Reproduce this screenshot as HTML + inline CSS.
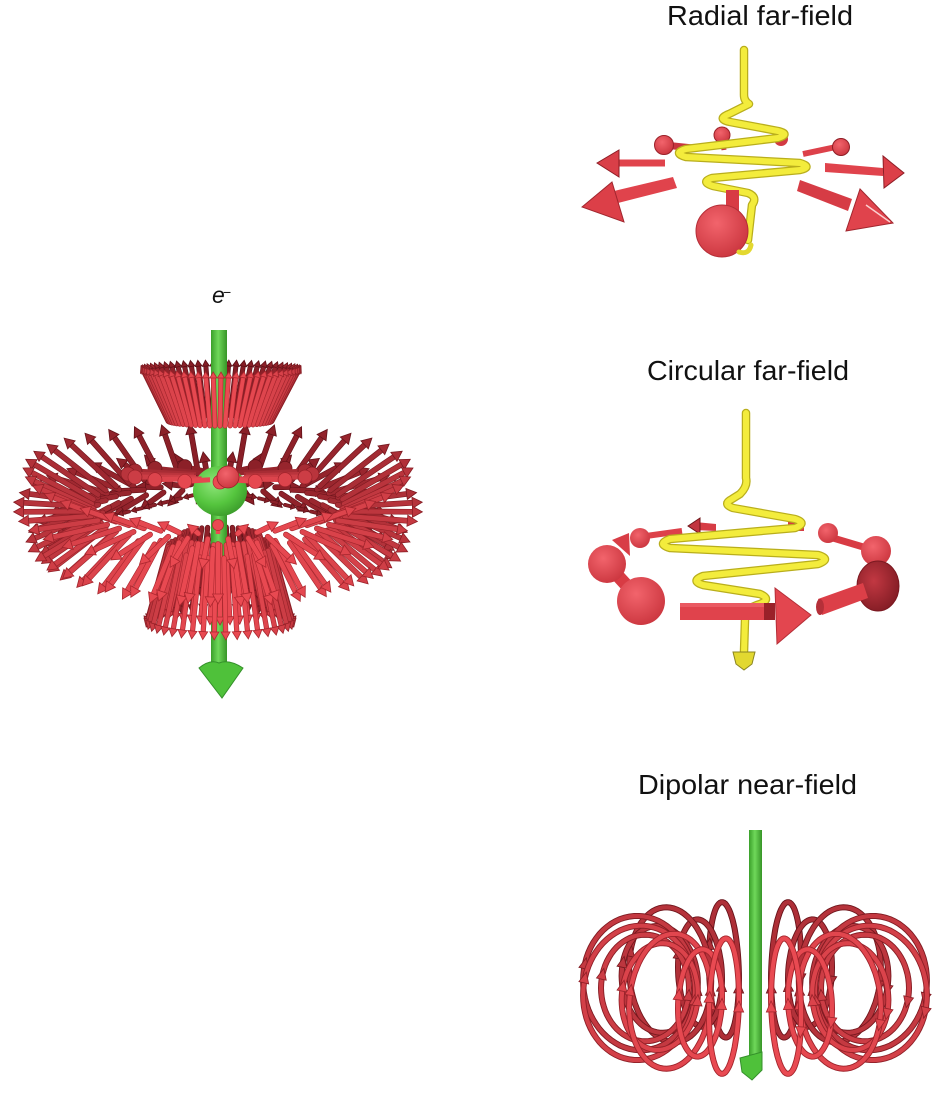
<!DOCTYPE html>
<html><head><meta charset="utf-8">
<style>
html,body{margin:0;padding:0;background:#fff;}
svg{display:block;}
text{font-family:"Liberation Sans",Arial,sans-serif;fill:#111;}
</style></head><body>
<svg id="s" xmlns="http://www.w3.org/2000/svg" width="944" height="1096" viewBox="0 0 944 1096">
<defs>
 <linearGradient id="gRod" x1="0" x2="1" y1="0" y2="0"><stop offset="0" stop-color="#3a9f2a"/><stop offset=".45" stop-color="#6fd85a"/><stop offset="1" stop-color="#379527"/></linearGradient>
 <radialGradient id="gSph" cx=".4" cy=".35" r=".7"><stop offset="0" stop-color="#8fe67b"/><stop offset=".6" stop-color="#55c53e"/><stop offset="1" stop-color="#3a9a2a"/></radialGradient>
 <radialGradient id="gRed" cx=".4" cy=".35" r=".75"><stop offset="0" stop-color="#f2646c"/><stop offset="1" stop-color="#c8323b"/></radialGradient>
 <radialGradient id="gDark" cx=".4" cy=".4" r=".7"><stop offset="0" stop-color="#c23842"/><stop offset="1" stop-color="#7e1a22"/></radialGradient>
</defs>

<text x="667" y="25" font-size="28" textLength="186" lengthAdjust="spacingAndGlyphs">Radial far-field</text>
<text x="647" y="380" font-size="28" textLength="202" lengthAdjust="spacingAndGlyphs">Circular far-field</text>
<text x="638" y="794" font-size="28" textLength="219" lengthAdjust="spacingAndGlyphs">Dipolar near-field</text>
<text x="212" y="303" font-size="23" font-style="italic">e</text>
<text x="223" y="297" font-size="14">−</text>

<!-- ============ RADIAL FAR-FIELD ============ -->
<g id="radial">
 <line x1="664" y1="145" x2="693" y2="148" stroke="#c8353e" stroke-width="7"/>
 <circle cx="664" cy="145" r="9.5" fill="url(#gRed)" stroke="#9a2129" stroke-width="1"/>
 <line x1="722" y1="135" x2="724" y2="150" stroke="#c8353e" stroke-width="5"/>
 <circle cx="722" cy="135" r="8" fill="url(#gRed)" stroke="#9a2129" stroke-width="1"/>
 <circle cx="781" cy="139" r="7" fill="#d23a43"/>
 <path d="M744,50 L744,95 Q744,101 749,104 L729,114 Q716,119 730,122 L778,131 Q791,134 778,138 L686,149 Q672,153 686,157 L800,163 Q813,167 800,170 L712,178 Q700,182 713,186 L748,193 Q758,197 752,205 L748,240" fill="none" stroke="#b9ae1c" stroke-width="8.5" stroke-linejoin="round" stroke-linecap="round"/>
 <path d="M744,50 L744,95 Q744,101 749,104 L729,114 Q716,119 730,122 L778,131 Q791,134 778,138 L686,149 Q672,153 686,157 L800,163 Q813,167 800,170 L712,178 Q700,182 713,186 L748,193 Q758,197 752,205 L748,240" fill="none" stroke="#f3ec3c" stroke-width="6" stroke-linejoin="round" stroke-linecap="round"/>
 <rect x="617" y="159.5" width="48" height="7" fill="#e0434c"/>
 <polygon points="597,163 619,150 619,177" fill="#d93f48" stroke="#8e1d25" stroke-width="1"/>
 <polygon points="673,177 677,188 618,203 614,191" fill="#e0434c"/>
 <polygon points="582,207 612,182 624,222" fill="#dc3f48" stroke="#a0262e" stroke-width="1"/>
 <line x1="803" y1="154" x2="836" y2="147" stroke="#dd414a" stroke-width="6"/>
 <circle cx="841" cy="147" r="8.5" fill="url(#gRed)" stroke="#8e1d25" stroke-width="1"/>
 <polygon points="825,163 883,168 883,176 825,172" fill="#e0434c"/>
 <polygon points="883,156 884,188 904,173" fill="#dc3f48" stroke="#8e1d25" stroke-width="1"/>
 <polygon points="800,180 852,199 848,211 797,191" fill="#d63c45"/>
 <polygon points="860,189 846,231 893,223" fill="#e0434c" stroke="#a0262e" stroke-width="1"/>
 <line x1="866" y1="205" x2="890" y2="222" stroke="#fbd0d0" stroke-width="1.5"/>
 <rect x="726" y="190" width="13" height="25" fill="#d83b44"/>
 <circle cx="722" cy="231" r="26" fill="url(#gRed)" stroke="#b52e37" stroke-width="1"/>
 <path d="M739,252 Q749,255 751,245" fill="none" stroke="#e3d830" stroke-width="5" stroke-linecap="round"/>
</g>

<!-- ============ CIRCULAR FAR-FIELD ============ -->
<g id="circular">
 <polygon points="695,522 716,524 716,531 695,530" fill="#d63c45"/>
 <polygon points="688,526 700,518 700,534" fill="#c23540" stroke="#6e1519" stroke-width="1"/>
 <rect x="788" y="522" width="16" height="9" fill="#d63c45"/>
 <line x1="646" y1="536" x2="682" y2="531" stroke="#dd414a" stroke-width="6"/>
 <polygon points="612,540 629,533 630,556" fill="#d83d46"/>
 <circle cx="640" cy="538" r="10" fill="url(#gRed)"/>
 <path d="M746,413 L746,478 Q748,486 740,494 L732,499 Q722,504 733,508 L795,519 Q808,523 795,528 L670,539 Q656,544 670,548 L818,555 Q832,559 818,564 L703,576 Q690,581 703,585 L760,594 Q772,599 760,604 Q745,608 745,620 L744,652" fill="none" stroke="#b9ae1c" stroke-width="8.5" stroke-linejoin="round" stroke-linecap="round"/>
 <path d="M746,413 L746,478 Q748,486 740,494 L732,499 Q722,504 733,508 L795,519 Q808,523 795,528 L670,539 Q656,544 670,548 L818,555 Q832,559 818,564 L703,576 Q690,581 703,585 L760,594 Q772,599 760,604 Q745,608 745,620 L744,652" fill="none" stroke="#f3ec3c" stroke-width="6" stroke-linejoin="round" stroke-linecap="round"/>
 <polygon points="733,652 755,652 752,664 744,670 736,664" fill="#e2d830" stroke="#8a8420" stroke-width="1"/>
 <line x1="607" y1="564" x2="640" y2="600" stroke="#d83b44" stroke-width="13"/>
 <circle cx="607" cy="564" r="19" fill="url(#gRed)"/>
 <circle cx="641" cy="601" r="24" fill="url(#gRed)"/>
 <line x1="833" y1="538" x2="870" y2="549" stroke="#d83b44" stroke-width="7"/>
 <circle cx="828" cy="533" r="10" fill="url(#gRed)"/>
 <circle cx="876" cy="551" r="15" fill="url(#gRed)"/>
 <ellipse cx="878" cy="586" rx="21" ry="25" fill="url(#gDark)" stroke="#7a1820" stroke-width="1"/>
 <polygon points="818,599 863,583 868,598 822,615" fill="#dc3f48"/>
 <ellipse cx="820" cy="607" rx="4" ry="8" fill="#b53039"/>
 <rect x="680" y="603" width="95" height="17" fill="#e0434c"/>
 <rect x="680" y="603" width="95" height="4" fill="#ea5a62"/>
 <rect x="764" y="603" width="11" height="17" fill="#9a2129"/>
 <polygon points="775,588 777,644 811,615" fill="#e3464f" stroke="#b52e37" stroke-width="1"/>
</g>

<g id="left"></g>
<g id="dip"></g>
</svg>
<script>
(function(){
const NS="http://www.w3.org/2000/svg";
function el(t,a,p){const e=document.createElementNS(NS,t);for(const k in a)e.setAttribute(k,a[k]);p.appendChild(e);return e;}
function mixc(a,b,t){return "rgb("+a.map((v,i)=>Math.round(v+(b[i]-v)*t)).join(",")+")";}
function col(t){return mixc([112,20,28],[234,74,82],t);}
function dcol(t){return mixc([72,10,16],[175,40,48],t);}

/* ---------- LEFT FIGURE ---------- */
const L=document.getElementById('left');
function arrow(g,x0,y0,x1,y1,w,hw,hl,t,ball){
  const c=col(t), d=dcol(t);
  const dx=x1-x0, dy=y1-y0, len=Math.hypot(dx,dy);
  if(ball||len<hl*1.4){
    if(len>1) el('line',{x1:x0,y1:y0,x2:x1,y2:y1,stroke:c,'stroke-width':w},g);
    el('circle',{cx:x1,cy:y1,r:hw*0.5,fill:c,stroke:d,'stroke-width':0.7},g);
    return;
  }
  const ux=dx/len, uy=dy/len, nx=-uy, ny=ux;
  const bx=x1-ux*hl, by=y1-uy*hl;
  el('line',{x1:x0,y1:y0,x2:bx,y2:by,stroke:d,'stroke-width':w+1.2,'stroke-linecap':'round'},g);
  el('line',{x1:x0,y1:y0,x2:bx,y2:by,stroke:c,'stroke-width':w,'stroke-linecap':'round'},g);
  el('polygon',{points:x1+","+y1+" "+(bx+nx*hw/2)+","+(by+ny*hw/2)+" "+(bx-nx*hw/2)+","+(by-ny*hw/2),fill:c,stroke:d,'stroke-width':0.8},g);
}
const rings=[
 {b:[220,421,52,5],t:[221,366,80,6],n:64,w:3.8,hw:7,hl:6,lo:0.15,noshort:true},
 {b:[218,504,126,30],t:[218,468,195,57],n:40,w:4.5,hw:11,hl:10},
 {b:[218,509,130,30],t:[218,507,205,62],n:40,ph:.5,w:4.5,hw:11,hl:10},
 {b:[218,514,126,30],t:[218,542,192,62],n:40,w:4.5,hw:11,hl:10},
 {b:[218,519,118,30],t:[218,557,178,50],n:36,ph:.25,w:4.5,hw:11,hl:10},
 {b:[220,476,26,4],t:[220,474,92,8],n:16,w:5,hw:14,hl:7,ball:true,noshort:true},
 {b:[220,536,40,9],t:[220,610,64,15],n:40,w:4,hw:9,hl:8,noshort:true},
 {b:[220,546,52,12],t:[220,626,74,14],n:40,ph:.5,w:4,hw:9,hl:8,noshort:true}
];
const items=[];
rings.forEach(r=>{
  for(let k=0;k<r.n;k++){
    const f=2*Math.PI*(k+(r.ph||0))/r.n, c=Math.cos(f), s=Math.sin(f);
    const x0=r.b[0]+r.b[2]*c, y0=r.b[1]+r.b[3]*s;
    let x1=r.t[0]+r.t[2]*c, y1=r.t[1]+r.t[3]*s;
    if(!r.noshort && s<0){ const k2=1-0.2*s*s; x1=x0+(x1-x0)*k2; y1=y0+(y1-y0)*k2; }
    const depth=s*r.t[2]*0.5;
    const lo=(r.lo!==undefined)?r.lo:0.2;
    const tt=Math.min(1,Math.max(0,(s+1)/2*(1-lo)+lo));
    items.push({d:depth,f:()=>arrow(L,x0,y0,x1,y1,r.w,r.hw,r.hl,tt,r.ball)});
  }
});
[-1,1].forEach(sd=>{
  for(let i=0;i<8;i++){
    const x0=220+sd*(26+i*13), y0=495+i*3.3, x1=x0+sd*11, y1=y0+2.7;
    items.push({d:-4,f:()=>arrow(L,x0,y0,x1,y1,2.6,6,5,0.22,false)});
  }
});
items.push({d:0,f:()=>{
  el('rect',{x:211,y:330,width:16,height:336,fill:'url(#gRod)'},L);
  el('path',{d:'M199,668 Q210,659 219,663 Q229,659 243,668 L222,698 Z',fill:'#4fc13a',stroke:'#34902a','stroke-width':1},L);
}});
items.push({d:3,f:()=>{ el('ellipse',{cx:220,cy:491,rx:27,ry:25,fill:'url(#gSph)'},L); }});
items.push({d:60,f:()=>{ el('circle',{cx:228,cy:477,r:11,fill:'url(#gRed)',stroke:'#9a2129','stroke-width':0.8},L); }});
items.sort((a,b)=>a.d-b.d).forEach(i=>i.f());

/* ---------- DIPOLAR LOOPS ---------- */
const D=document.getElementById('dip');
const cx=755, cy=988, al=9*Math.PI/180;
function P(g,cf,sf,t){const s=g.R+g.A*Math.cos(t), h=g.B*Math.sin(t); const X=s*cf, Z=s*sf; return [cx+X, cy-h*Math.cos(al)+Z*Math.sin(al)];}
const sets=[{R:120,A:58,B:68,n:12,off:15,skip:0},{R:110,A:44,B:54,n:12,off:0,skip:0.3}];
const objs=[];
sets.forEach(g=>{
for(let k=0;k<g.n;k++){
  const f=(g.off+360/g.n*k)*Math.PI/180, cf=Math.cos(f), sf=Math.sin(f);
  if(Math.abs(cf)<g.skip) continue;
  objs.push({d:g.R*sf,f:()=>{
    let d="";
    for(let i=0;i<=72;i++){const p=P(g,cf,sf,2*Math.PI*i/72); d+=(i?"L":"M")+p[0].toFixed(1)+","+p[1].toFixed(1);}
    d+="Z";
    const t=(sf+1)/2;
    el('path',{d:d,fill:'none',stroke:dcol(0.3+0.6*t),'stroke-width':6},D);
    el('path',{d:d,fill:'none',stroke:col(0.5+0.5*t),'stroke-width':4.2},D);
    const heads=[[Math.PI+0.15,-1],[cf<0?0.25:-0.25, cf<0?1:-1]];
    heads.forEach(hh=>{
      const t0=hh[0], p=P(g,cf,sf,t0), q=P(g,cf,sf,t0+0.05*hh[1]);
      let ux=q[0]-p[0], uy=q[1]-p[1]; const l=Math.hypot(ux,uy)||1; ux/=l; uy/=l;
      const nx=-uy, ny=ux, hl=11, hw=10;
      const tip=[p[0]+ux*hl*0.6,p[1]+uy*hl*0.6], b=[p[0]-ux*hl*0.4,p[1]-uy*hl*0.4];
      el('polygon',{points:tip[0]+","+tip[1]+" "+(b[0]+nx*hw/2)+","+(b[1]+ny*hw/2)+" "+(b[0]-nx*hw/2)+","+(b[1]-ny*hw/2),fill:col(0.5+0.5*t),stroke:dcol(0.3+0.6*t),'stroke-width':0.8},D);
    });
  }});
}
});
objs.push({d:0,f:()=>{
  el('rect',{x:749,y:830,width:13,height:228,fill:'url(#gRod)'},D);
  el('polygon',{points:'740,1058 762,1052 762,1070 752,1080 742,1072',fill:'#4fc13a',stroke:'#34902a','stroke-width':1},D);
}});
objs.sort((a,b)=>a.d-b.d).forEach(o=>o.f());
})();
</script>
</body></html>
